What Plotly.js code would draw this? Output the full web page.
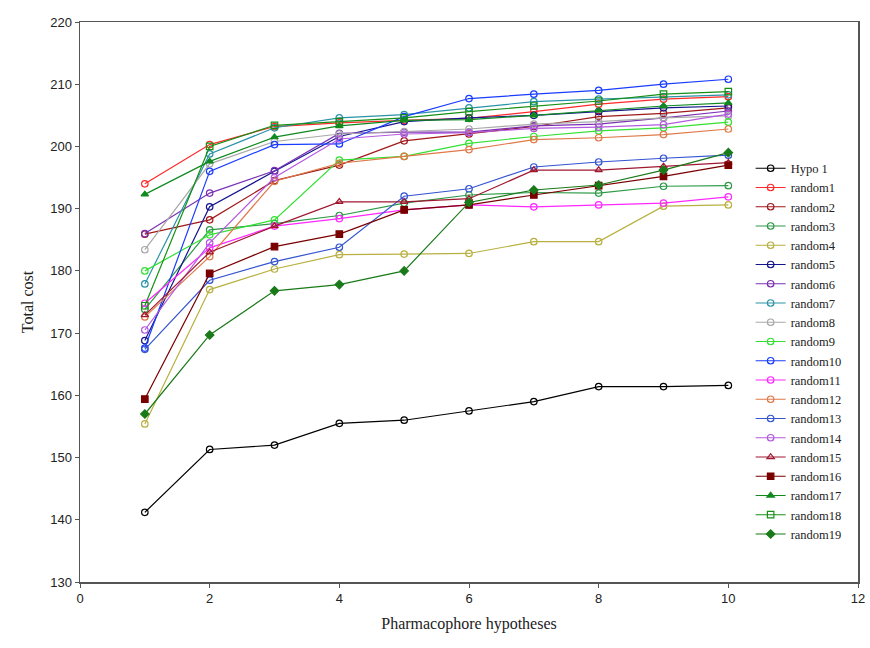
<!DOCTYPE html>
<html>
<head>
<meta charset="utf-8">
<script src="https://cdn.plot.ly/plotly-3.0.1.min.js"></script>
<style>html,body{margin:0;padding:0;background:#fff;}#chart{width:870px;height:648px;}</style>
</head>
<body>
<div id="chart"></div>
<script>
const hypotheses = [1, 2, 3, 4, 5, 6, 7, 8, 9, 10];

const seriesNames = ["Hypo 1", "random1", "random2", "random3", "random4", "random5", "random6",
  "random7", "random8", "random9", "random10", "random11", "random12", "random13", "random14",
  "random15", "random16", "random17", "random18", "random19"];

const hypo1    = [141.2, 151.3, 152.0, 155.5, 156.0, 157.5, 159.0, 161.4, 161.4, 161.6];
const random1  = [194.0, 200.3, 203.2, 203.8, 204.2, 204.5, 205.6, 206.8, 207.6, 208.0];
const random2  = [185.9, 188.2, 194.5, 197.0, 200.9, 202.0, 203.2, 204.8, 205.3, 206.2];
const random3  = [173.8, 186.6, 187.6, 188.9, 190.9, 192.2, 192.6, 192.5, 193.6, 193.7];
const random4  = [155.4, 177.0, 180.3, 182.6, 182.7, 182.8, 184.7, 184.7, 190.4, 190.6];
const random5  = [168.8, 190.3, 196.0, 201.6, 204.0, 204.6, 205.0, 205.6, 206.2, 206.5];
const random6  = [186.0, 192.5, 196.1, 202.1, 202.3, 202.3, 203.3, 203.6, 204.6, 205.7];
const random7  = [177.9, 198.8, 203.0, 204.6, 205.1, 206.2, 207.2, 207.6, 208.0, 208.3];
const random8  = [183.4, 197.2, 200.8, 202.0, 202.4, 202.8, 203.6, 204.0, 204.6, 204.9];
const random9  = [180.0, 185.8, 188.2, 197.8, 198.4, 200.5, 201.6, 202.5, 203.0, 203.9];
const random10 = [167.6, 196.0, 200.3, 200.4, 204.8, 207.7, 208.4, 209.0, 210.0, 210.8];
const random11 = [174.8, 183.7, 187.2, 188.4, 189.8, 190.6, 190.3, 190.6, 190.9, 191.9];
const random12 = [172.6, 182.3, 194.4, 197.3, 198.4, 199.5, 201.1, 201.4, 201.9, 202.8];
const random13 = [167.4, 178.5, 181.5, 183.8, 192.0, 193.2, 196.7, 197.5, 198.1, 198.6];
const random14 = [170.5, 184.5, 195.0, 201.2, 202.0, 202.2, 202.9, 203.1, 203.5, 205.2];
const random15 = [172.9, 183.0, 187.2, 191.1, 191.1, 191.6, 196.2, 196.2, 196.8, 197.4];
const random16 = [159.4, 179.6, 183.9, 185.9, 189.8, 190.6, 192.2, 193.7, 195.2, 197.0];
const random17 = [192.3, 197.6, 201.5, 203.3, 204.2, 204.3, 205.0, 205.8, 206.5, 207.0];
const random18 = [174.4, 200.0, 203.4, 204.0, 204.6, 205.6, 206.5, 207.3, 208.4, 208.8];
const random19 = [157.0, 169.7, 176.8, 177.8, 180.0, 191.0, 193.0, 193.8, 196.2, 199.0];

const values = [hypo1, random1, random2, random3, random4, random5, random6, random7, random8,
  random9, random10, random11, random12, random13, random14, random15, random16, random17,
  random18, random19];

const colors = ["#000000", "#ff2a2a", "#a01818", "#2e9a48", "#b8b040", "#14148f", "#7a30b4",
  "#2a93a8", "#a8a8a8", "#33e033", "#1a3cff", "#ff28ff", "#e07848", "#3454d0", "#b45ae0",
  "#a01830", "#7a0000", "#108a20", "#159015", "#1a7a1a"];

const symbols = ["circle-open", "circle-open", "circle-open", "circle-open", "circle-open",
  "circle-open", "circle-open", "circle-open", "circle-open", "circle-open", "circle-open",
  "circle-open", "circle-open", "circle-open", "circle-open", "triangle-up-open", "square",
  "triangle-up", "square-open", "diamond"];

const traces = seriesNames.map((name, i) => ({
  x: hypotheses,
  y: values[i],
  name: name,
  type: "scatter",
  mode: "lines+markers",
  line: {color: colors[i], width: 1.2},
  marker: {color: colors[i], symbol: symbols[i], size: 6.5, line: {color: colors[i], width: 1.2}}
}));

const layout = {
  width: 870,
  height: 648,
  margin: {l: 80, r: 12, t: 22, b: 66},
  paper_bgcolor: "#ffffff",
  plot_bgcolor: "#ffffff",
  showlegend: true,
  legend: {
    x: 0.862, y: 0.765, xanchor: "left", yanchor: "top",
    bgcolor: "rgba(0,0,0,0)", borderwidth: 0,
    font: {family: "Liberation Serif, serif", size: 12.5, color: "#222"},
    tracegroupgap: 0, itemwidth: 30
  },
  xaxis: {
    range: [0, 12], dtick: 2, tick0: 0,
    showgrid: false, zeroline: false,
    showline: true, linecolor: "#555", linewidth: 1.5, mirror: true,
    ticks: "outside", ticklen: 4, tickcolor: "#555",
    tickfont: {family: "Liberation Sans, Arial, sans-serif", size: 13, color: "#222"},
    title: {text: "Pharmacophore hypotheses", font: {family: "Liberation Serif, serif", size: 16, color: "#222"}, standoff: 12}
  },
  yaxis: {
    range: [130, 220], dtick: 10, tick0: 130,
    showgrid: false, zeroline: false,
    showline: true, linecolor: "#555", linewidth: 1.5, mirror: true,
    ticks: "outside", ticklen: 4, tickcolor: "#555",
    tickfont: {family: "Liberation Sans, Arial, sans-serif", size: 13, color: "#222"},
    title: {text: "Total cost", font: {family: "Liberation Serif, serif", size: 16, color: "#222"}, standoff: 12}
  }
};

Plotly.newPlot("chart", traces, layout, {displayModeBar: false, staticPlot: true});
</script>
</body>
</html>
